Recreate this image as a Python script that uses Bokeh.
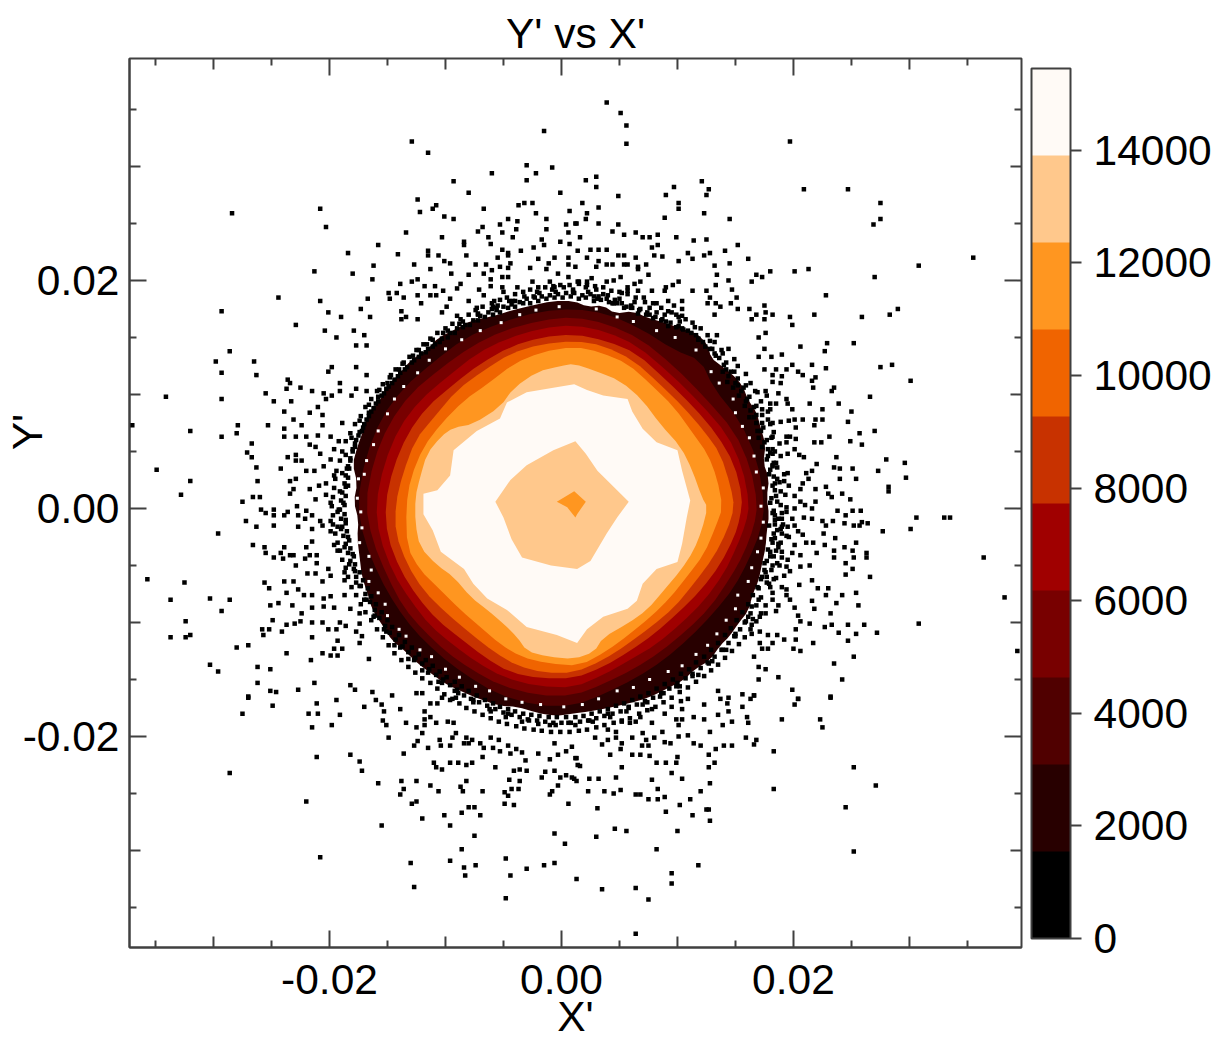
from bokeh.plotting import figure
from bokeh.models import FixedTicker, Range1d, NumeralTickFormatter, ColorBar, LinearColorMapper
from bokeh.embed import file_html
from bokeh.resources import INLINE

FONT = "Liberation Sans"
INK = "#404040"
MILLI = 1e-3
TEXT_SIZE = "42.5px"

LEVELS = [0, 1545, 3090, 4635, 6180, 7725, 9270, 10815, 12360, 13905, 15450]
BAND_COLORS = ["#000000", "#280000", "#500000", "#780000", "#a00000",
               "#c83200", "#f06400", "#ff9620", "#ffc88c", "#fffaf6"]
CBAR_TICKS = [0, 2000, 4000, 6000, 8000, 10000, 12000, 14000]

MAJOR_TICKS = [-0.02, 0.0, 0.02]
MID_TICKS = [-0.03, -0.01, 0.01, 0.03]
MINOR_TICKS = [-0.035, -0.025, -0.015, -0.005, 0.005, 0.015, 0.025, 0.035]
TICK_LABELS = {-0.02: "-0.02", 0.0: "0.00", 0.02: "0.02"}

# contour outlines, (X', Y') in units of 0.001
CONTOUR_1545 = [(1.1,18.2),(2.2,17.7),(3.6,17.8),(4.6,17.1),(6.2,17.3),(7.5,16.7),(8.9,16.3),(10.3,15.8),(11.6,15.4),(12.6,14.4),(12.9,13.2),(13.8,12.5),(14.7,11.8),(15.6,10.8),(16.1,9.5),(16.8,8.5),(17.2,7.0),(17.6,5.6),(17.4,4.0),(17.9,2.6),(17.7,1.0),(17.9,-0.6),(17.7,-2.0),(17.6,-3.4),(17.3,-4.8),(17.0,-6.3),(16.5,-7.5),(16.1,-9.0),(15.3,-10.0),(14.5,-11.2),(13.7,-12.0),(12.8,-13.3),(11.5,-14.1),(10.5,-15.1),(9.1,-15.8),(7.5,-16.6),(5.8,-17.1),(4.1,-17.5),(2.4,-17.8),(1.0,-18.0),(-0.6,-18.2),(-2.2,-17.9),(-3.8,-17.4),(-5.4,-17.3),(-7.1,-16.7),(-8.5,-16.1),(-10.0,-15.4),(-11.2,-14.5),(-12.4,-13.6),(-13.6,-12.4),(-14.6,-11.6),(-15.4,-10.3),(-16.3,-8.9),(-16.7,-7.5),(-17.2,-6.0),(-17.4,-4.3),(-17.6,-2.6),(-17.5,-1.0),(-17.9,0.6),(-17.6,2.2),(-18.0,3.9),(-17.6,5.4),(-17.1,6.8),(-16.7,8.3),(-15.7,9.4),(-15.1,10.6),(-13.9,11.9),(-13.0,13.0),(-11.5,14.0),(-10.6,15.0),(-9.0,15.8),(-7.7,16.5),(-5.8,16.9),(-4.2,17.4),(-2.6,17.8),(-0.8,18.2)]
CONTOUR_3090 = [(1.1,17.5),(3.9,17.1),(6.8,15.8),(9.7,13.9),(12.0,13.0),(13.1,10.6),(15.4,7.7),(16.9,4.2),(17.5,0.4),(17.2,-1.9),(16.1,-4.6),(14.9,-6.9),(13.1,-9.2),(11.1,-11.3),(8.8,-13.3),(6.4,-14.9),(3.6,-16.3),(1.1,-17.3),(-2.1,-17.3),(-5.5,-16.3),(-8.4,-14.5),(-10.7,-12.7),(-12.7,-10.7),(-14.3,-8.5),(-15.7,-6.0),(-17.0,-2.8),(-17.6,0.4),(-16.9,4.5),(-15.5,8.0),(-13.6,10.6),(-11.1,12.8),(-8.4,14.9),(-5.3,16.3),(-1.8,17.3)]
CONTOUR_4635 = [(1.1,16.8),(3.9,16.2),(6.8,14.9),(9.7,12.5),(12.3,9.8),(14.9,6.8),(16.3,3.6),(16.9,0.4),(16.6,-1.6),(15.7,-4.0),(14.6,-6.0),(12.8,-8.7),(10.8,-10.7),(8.5,-12.6),(6.2,-14.1),(3.6,-15.4),(1.1,-16.4),(-2.1,-16.4),(-5.3,-15.5),(-7.8,-14.1),(-9.9,-12.6),(-11.9,-10.7),(-13.6,-8.7),(-15.0,-6.0),(-16.3,-2.8),(-16.9,0.4),(-16.2,4.2),(-14.9,7.4),(-13.0,10.1),(-10.4,12.3),(-7.8,14.2),(-5.0,15.6),(-1.8,16.5)]
CONTOUR_6180 = [(1.1,16.1),(3.9,15.5),(6.5,14.3),(9.4,11.8),(12.0,9.2),(14.3,6.5),(15.6,3.6),(16.2,0.4),(15.9,-1.3),(15.1,-3.4),(14.0,-5.7),(12.3,-8.1),(10.3,-10.1),(8.2,-11.9),(5.9,-13.3),(3.6,-14.6),(1.1,-15.7),(-2.1,-15.6),(-5.0,-14.8),(-7.3,-13.5),(-9.3,-12.0),(-11.3,-10.3),(-13.0,-8.1),(-14.5,-5.7),(-15.7,-2.5),(-16.0,0.4),(-15.3,3.9),(-14.0,7.1),(-12.2,9.5),(-9.9,11.5),(-7.3,13.6),(-4.7,14.9),(-1.8,15.8)]
CONTOUR_7725 = [(1.1,15.3),(3.9,14.7),(6.5,13.6),(9.1,11.2),(11.4,8.9),(13.4,6.5),(14.9,3.9),(15.6,1.0),(15.4,-0.8),(14.9,-2.5),(13.7,-4.9),(12.0,-7.2),(10.0,-9.2),(8.0,-11.0),(5.9,-12.5),(3.6,-13.9),(1.1,-14.9),(-1.8,-14.9),(-4.4,-14.4),(-6.7,-13.0),(-8.7,-11.4),(-10.7,-9.8),(-12.4,-7.8),(-13.9,-5.4),(-15.0,-2.5),(-15.2,0.4),(-14.5,3.6),(-13.3,6.5),(-11.6,8.9),(-9.3,10.9),(-7.0,12.7),(-4.4,14.2),(-1.8,15.0)]
CONTOUR_9270 = [(1.1,14.7),(3.6,14.3),(6.2,13.0),(8.5,10.9),(10.5,8.9),(12.3,6.8),(13.7,4.8),(14.6,1.9),(14.9,0.1),(14.3,-1.9),(13.1,-4.3),(11.4,-6.6),(9.7,-8.7),(7.7,-10.4),(5.7,-11.9),(3.6,-13.3),(1.1,-14.4),(-1.5,-14.4),(-3.8,-13.8),(-5.8,-12.6),(-7.8,-11.0),(-9.9,-9.2),(-11.9,-7.2),(-13.3,-4.9),(-14.3,-2.2),(-14.3,0.4),(-13.7,3.0),(-12.6,6.0),(-11.0,8.0),(-9.0,10.4),(-6.7,12.1),(-4.4,13.6),(-1.8,14.4)]
CONTOUR_10815 = [(1.1,14.2),(3.4,13.7),(5.7,12.7),(7.7,10.9),(9.7,8.9),(11.4,6.5),(12.6,4.8),(13.4,2.7),(13.9,0.1),(13.3,-1.6),(12.3,-4.0),(10.8,-6.0),(9.4,-7.8),(7.7,-9.5),(5.9,-11.0),(3.9,-12.5),(1.6,-13.8),(-1.2,-13.6),(-3.5,-13.0),(-5.3,-11.9),(-7.0,-10.4),(-8.7,-8.9),(-10.7,-6.9),(-12.2,-5.4),(-13.3,-3.4),(-13.4,0.1),(-13.0,2.7),(-11.9,5.4),(-10.4,7.4),(-8.4,9.5),(-6.4,10.9),(-4.1,12.7),(-1.8,13.7)]
CONTOUR_12360 = [(1.1,12.7),(2.8,12.1),(5.1,11.2),(7.0,9.5),(8.5,7.4),(10.3,5.4),(11.3,3.3),(12.1,1.0),(12.6,0.1),(12.1,-1.9),(11.4,-3.7),(10.3,-5.4),(8.8,-7.2),(7.4,-8.9),(5.7,-10.1),(3.6,-11.3),(2.8,-12.6),(1.1,-13.2),(-1.2,-13.0),(-3.0,-12.5),(-3.8,-11.3),(-5.0,-10.1),(-6.4,-8.9),(-7.8,-7.8),(-9.3,-6.0),(-10.7,-5.0),(-12.2,-3.4),(-12.6,-1.3),(-12.6,1.0),(-12.2,2.7),(-11.6,4.8),(-10.4,6.3),(-9.3,7.1),(-7.6,7.4),(-5.3,8.9),(-4.1,10.6),(-2.1,12.0),(-0.1,12.5)]
CONTOUR_13905 = [(1.1,10.9),(2.2,10.4),(3.6,9.9),(5.7,9.6),(6.1,8.5),(7.0,7.0),(8.2,5.8),(10.0,5.1),(10.4,3.3),(11.1,0.7),(10.8,-0.8),(10.4,-3.1),(10.0,-4.7),(8.2,-5.3),(7.0,-6.6),(6.5,-8.1),(5.7,-8.8),(3.6,-9.5),(2.2,-10.6),(1.35,-11.8),(-0.4,-11.1),(-3.0,-10.4),(-4.7,-8.9),(-6.4,-7.9),(-7.6,-6.6),(-8.4,-5.3),(-10.4,-3.8),(-11.1,-1.9),(-11.9,-0.5),(-11.9,1.3),(-10.7,1.6),(-9.6,2.9),(-9.3,5.1),(-7.3,6.8),(-5.3,7.9),(-4.7,9.3),(-3.0,10.2),(-0.7,10.6)]
HOLE_13905 = [(1.2,5.9),(2.1,4.8),(3.1,3.3),(5.8,0.6),(4.8,-0.8),(3.9,-2.2),(2.5,-4.6),(1.35,-5.3),(-0.9,-5.0),(-3.4,-4.3),(-4.3,-2.7),(-5.0,-0.8),(-5.7,0.6),(-4.4,2.5),(-3.0,3.8),(-0.7,5.1)]
HOLE_12360 = [(1.1,1.5),(2.1,0.6),(1.35,-0.5),(1.2,-0.8),(0.5,0.1),(-0.4,0.6)]

SMOOTH_CONTOURS = [CONTOUR_1545, CONTOUR_3090, CONTOUR_4635, CONTOUR_6180, CONTOUR_7725, CONTOUR_9270, CONTOUR_10815, CONTOUR_12360]
SHARP_CONTOURS = [CONTOUR_13905, HOLE_13905, HOLE_12360]
CONTOUR_COLORS = BAND_COLORS[1:] + ["#ffc88c", "#ff9620"]

# empty cells inside the thin outer rim, units of 0.001
RIM_GAPS = [(-17.0,3.0),(-17.5,2.6),(-17.6,0.9),(-17.3,-0.3),(-17.2,-1.7),(-17.4,-3.0),(-16.6,-4.2),(-16.4,-5.4),(-16.6,-6.4),(-15.8,-7.4),(-15.2,-8.4),(-15.0,-9.4),(-14.0,-10.6),(-13.4,-11.2),(-12.2,-12.4),(-11.2,-13.0),(-10.0,-14.1),(-8.8,-14.8),(-7.4,-15.6),(-6.2,-16.0),(-4.8,-16.7),(-3.4,-17.0),(-1.8,-17.2),(0.2,-17.4),(1.8,-17.2),(3.2,-16.7),(4.8,-16.0),(6.2,-15.7),(7.6,-15.0),(9.2,-14.3),(10.4,-13.8),(11.6,-12.8),(12.6,-12.0),(13.4,-11.0),(14.2,-9.8),(15.0,-8.8),(15.2,-7.6),(16.1,-6.4),(16.4,-5.2),(16.9,-3.8),(17.2,-2.6),(17.4,-1.2),(17.2,0.2),(17.4,1.8),(16.8,3.2),(16.6,4.6),(16.2,6.2),(15.6,7.2),(15.0,8.4),(14.8,9.6),(13.6,11.0),(12.9,12.0),(11.6,13.9),(9.8,15.0),(8.2,15.6),(6.2,16.4),(4.8,16.8),(3.0,17.5),(-0.2,17.7),(-2.2,17.4),(-3.6,17.0),(-5.2,16.3),(-7.0,15.6),(-8.6,14.8),(-10.0,14.0),(-11.4,13.0),(-12.4,11.9),(-13.6,10.7),(-14.4,9.6),(-15.0,8.3),(-15.8,6.8),(-16.2,5.6),(-16.8,4.2)]

# isolated particles, units of 0.001
DOTS_EDGE = [(18.3,-0.2),(18.0,0.5),(18.5,1.1),(18.2,2.0),(18.6,2.6),(17.9,3.0),(18.2,3.7),(17.7,4.3),(18.0,4.9),(17.3,5.4),(17.7,6.0),(16.9,6.8),(17.3,7.5),(16.6,8.0),(16.3,8.6),(16.8,9.0),(15.9,9.4),(15.5,10.3),(15.9,10.8),(15.0,11.0),(14.4,11.6),(14.9,12.0),(14.0,12.6),(13.6,13.2),(13.9,13.6),(13.0,14.0),(12.4,14.2),(12.8,14.7),(11.8,14.9),(11.2,15.4),(11.5,15.9),(10.5,15.7),(9.9,15.9),(10.2,16.4),(9.2,16.0),(8.6,16.5),(8.9,17.0),(7.9,16.7),(7.3,17.0),(7.6,17.6),(6.6,17.1),(6.1,17.6),(6.3,18.1),(5.4,17.6),(4.8,18.0),(5.0,18.4),(4.1,18.1),(3.4,18.3),(3.6,18.8),(2.8,18.2),(2.1,18.5),(2.3,19.0),(1.5,18.4),(0.8,18.6),(1.0,19.2),(0.1,18.5),(-0.6,18.5),(-0.5,19.0),(-1.3,18.4),(-2.0,18.2),(-1.9,18.9),(-2.7,18.0),(-3.3,18.0),(-3.2,18.6),(-4.0,17.7),(-4.6,17.6),(-4.5,18.2),(-5.3,17.2),(-5.9,17.0),(-5.9,17.7),(-6.6,16.8),(-7.2,16.5),(-7.2,17.1),(-7.9,16.1),(-8.5,15.9),(-8.5,16.4),(-9.2,15.4),(-9.8,15.0),(-9.8,15.6),(-10.5,14.6),(-11.1,14.2),(-11.1,14.8),(-11.7,13.7),(-12.3,13.3),(-12.3,13.9),(-12.9,12.8),(-13.5,12.2),(-13.6,12.8),(-14.1,11.6),(-14.6,11.0),(-14.7,11.7),(-15.1,10.5),(-15.5,9.9),(-15.7,10.4),(-16.0,9.2),(-16.4,8.5),(-16.6,9.1),(-16.8,7.8),(-17.1,7.1),(-17.4,7.7),(-17.5,6.4),(-17.8,5.7),(-18.1,6.2),(-18.0,5.0),(-18.2,4.2),(-18.6,4.7),(-18.3,3.5),(-18.4,2.7),(-18.9,3.1),(-18.6,1.9),(-18.6,1.1),(-19.1,1.5),(-18.7,0.3),(-18.7,-0.5),(-19.2,-0.1),(-18.6,-1.3),(-18.5,-2.0),(-19.0,-1.8),(-18.3,-2.8),(-18.2,-3.5),(-18.7,-3.4),(-17.9,-4.2),(-17.8,-4.9),(-18.3,-4.9),(-17.4,-5.6),(-17.1,-6.3),(-17.7,-6.5),(-16.7,-7.0),(-16.4,-7.7),(-17.0,-8.0),(-16.0,-8.4),(-15.5,-9.1),(-16.1,-9.4),(-15.0,-9.8),(-14.6,-10.4),(-15.1,-10.8),(-14.0,-11.1),(-13.5,-11.7),(-13.9,-12.2),(-12.9,-12.2),(-12.3,-12.8),(-12.7,-13.3),(-11.7,-13.3),(-11.1,-13.8),(-11.5,-14.4),(-10.5,-14.3),(-9.9,-14.8),(-10.3,-15.3),(-9.2,-15.2),(-8.6,-15.6),(-8.9,-16.2),(-8.0,-16.0),(-7.3,-16.4),(-7.6,-17.0),(-6.6,-16.8),(-5.9,-17.1),(-6.1,-17.8),(-5.3,-17.4),(-4.6,-17.6),(-4.8,-18.3),(-4.0,-17.8),(-3.3,-18.0),(-3.4,-18.7),(-2.6,-18.1),(-1.9,-18.2),(-2.0,-18.9),(-1.1,-18.3),(-0.4,-18.3),(-0.5,-19.0),(0.4,-18.3),(1.2,-18.3),(1.2,-19.0),(1.9,-18.2),(2.6,-18.0),(2.7,-18.7),(3.3,-17.8),(4.0,-17.6),(4.2,-18.3),(4.7,-17.3),(5.4,-17.1),(5.6,-17.8),(6.1,-16.8),(6.8,-16.5),(7.0,-17.2),(7.5,-16.2),(8.2,-15.8),(8.5,-16.5),(8.9,-15.4),(9.6,-15.0),(9.9,-15.6),(10.3,-14.5),(11.0,-14.1),(11.3,-14.7),(11.6,-13.5),(12.3,-13.0),(12.7,-13.6),(12.9,-12.4),(13.5,-11.8),(13.9,-12.4),(14.1,-11.1),(14.6,-10.5),(15.0,-11.0),(15.1,-9.8),(15.6,-9.1),(16.1,-9.5),(16.1,-8.4),(16.5,-7.6),(17.0,-8.0),(16.9,-6.9),(17.2,-6.2),(17.7,-6.5),(17.5,-5.4),(17.7,-4.6),(18.2,-5.0),(18.0,-3.8),(18.2,-3.0),(18.7,-3.4),(18.3,-2.2),(18.4,-1.4),(18.9,-1.8),(18.4,-0.6)]
DOTS_FRINGE_E = [(18.1,0.9),(18.4,1.6),(18.9,0.3),(19.3,1.2),(18.2,-0.4),(18.7,-0.9),(19.4,-0.3),(18.3,2.8),(18.8,2.3),(19.2,3.0),(18.0,3.4),(18.5,4.0),(19.6,2.0),(17.9,-1.5),(18.6,-1.9),(19.1,-1.4),(18.1,-2.7),(18.7,-3.1),(19.4,-2.4),(17.8,-3.6),(18.3,-4.2),(19.0,-3.8),(19.5,-4.5),(17.5,-4.8),(18.1,-5.4),(18.8,-5.0),(19.2,-5.9),(17.3,-6.0),(17.9,-6.6),(18.5,-6.1)]
DOTS_FRINGE_NE = [(17.8,4.6),(18.4,5.0),(17.5,5.8),(18.1,6.2),(18.8,5.7),(17.0,6.2),(17.4,7.1),(18.0,7.4),(16.8,7.5),(17.3,8.2),(18.0,8.7),(16.2,8.0),(16.6,8.9),(17.2,9.4),(15.8,9.0),(16.2,9.8),(16.9,10.2),(15.3,9.9),(15.7,10.6),(16.3,11.0),(14.8,10.6),(15.2,11.4),(15.9,11.8),(14.3,11.1),(14.6,12.0),(15.2,12.5),(13.9,12.0),(14.2,12.8),(14.9,13.1),(13.3,13.4),(13.8,13.9),(14.4,14.0),(12.8,14.0),(13.2,14.6),(12.2,14.6),(12.6,15.2),(13.4,15.2),(11.6,15.2),(12.0,15.8),(10.9,15.6),(11.3,16.3),(10.1,16.0),(10.7,16.6),(9.4,16.3),(9.9,17.0),(8.7,16.6),(9.2,17.3),(8.1,16.8),(8.6,17.6),(7.4,17.2),(7.9,18.0),(6.7,17.4),(7.2,18.1)]
DOTS_FRINGE_N = [(6.0,17.8),(6.4,18.5),(5.2,18.0),(5.7,18.8),(4.6,18.3),(5.0,19.0),(3.9,18.4),(4.3,19.1),(3.2,18.6),(3.6,19.4),(2.5,18.8),(2.9,19.5),(1.8,18.7),(2.1,19.4),(1.1,18.9),(1.5,19.7),(0.4,18.9),(0.7,19.6),(-0.3,18.8),(-0.1,19.6),(-1.0,18.7),(-0.7,19.5),(-1.7,18.6),(-1.4,19.4),(-2.3,18.5),(-2.0,19.4),(-3.0,18.4),(-2.7,19.2),(-3.6,18.1),(-3.3,19.0),(-4.3,17.9),(-4.0,18.8),(-5.0,17.7),(-4.7,18.5),(-5.6,17.4),(-5.3,18.3)]
DOTS_FRINGE_NW = [(-6.3,17.2),(-6.0,18.0),(-7.0,16.9),(-6.8,17.7),(-7.6,16.5),(-7.4,17.4),(-8.3,16.1),(-8.0,17.0),(-9.0,15.8),(-8.7,16.6),(-9.6,15.4),(-9.4,16.2),(-10.3,14.9),(-10.0,15.8),(-10.9,14.4),(-10.7,15.4),(-11.5,14.0),(-11.3,14.9),(-12.1,13.6),(-11.9,14.4),(-12.7,13.0),(-12.5,13.9),(-13.3,12.4),(-13.1,13.3),(-13.9,11.9),(-13.7,12.7),(-14.4,11.3),(-14.3,12.2),(-14.9,10.7),(-14.8,11.5),(-15.3,10.1),(-15.4,10.9),(-15.8,9.4),(-15.9,10.3),(-16.2,8.8),(-16.4,9.6),(-16.6,8.1),(-16.9,8.9),(-17.0,7.4),(-17.3,8.1),(-17.4,6.7),(-17.8,7.4),(-17.7,6.0),(-18.2,6.6)]
DOTS_FRINGE_W = [(-18.0,5.2),(-18.6,5.9),(-18.2,4.4),(-18.9,5.0),(-18.4,3.7),(-19.1,4.2),(-18.6,2.9),(-19.4,3.3),(-18.7,2.2),(-19.5,2.6),(-18.9,1.4),(-19.6,1.8),(-19.0,0.7),(-19.7,1.0),(-19.1,-0.1),(-19.8,0.2),(-19.0,-0.9),(-19.7,-0.6),(-18.9,-1.6),(-19.7,-1.4),(-18.8,-2.4),(-19.5,-2.2),(-18.6,-3.1),(-19.3,-3.0),(-18.4,-3.9),(-19.1,-3.7),(-18.2,-4.6),(-18.9,-4.5),(-17.9,-5.3),(-18.6,-5.2)]
DOTS_FRINGE_SW = [(-17.7,-6.0),(-18.4,-6.0),(-17.3,-6.8),(-18.1,-6.9),(-16.9,-7.5),(-17.7,-7.6),(-16.5,-8.2),(-17.3,-8.4),(-16.1,-8.9),(-16.9,-9.1),(-15.7,-9.6),(-16.4,-9.8),(-15.2,-10.3),(-15.9,-10.6),(-14.8,-10.9),(-15.4,-11.3),(-14.3,-11.5),(-14.9,-12.0),(-13.7,-12.1),(-14.4,-12.7),(-13.2,-12.6),(-13.8,-13.3),(-12.6,-13.1),(-13.2,-13.9),(-12.0,-13.6),(-12.6,-14.4),(-11.4,-14.1),(-12.0,-14.9),(-10.8,-14.6),(-11.3,-15.3),(-10.2,-15.0),(-10.7,-15.8),(-9.6,-15.5),(-10.1,-16.3),(-9.0,-15.9),(-9.4,-16.7),(-8.4,-16.4),(-8.8,-17.1),(-7.8,-16.7),(-8.2,-17.5),(-7.1,-17.0),(-7.5,-17.8)]
DOTS_FRINGE_S = [(-6.4,-17.3),(-6.8,-18.1),(-5.7,-17.6),(-6.1,-18.4),(-5.0,-17.9),(-5.4,-18.7),(-4.3,-18.1),(-4.7,-18.9),(-3.6,-18.3),(-3.9,-19.1),(-2.9,-18.5),(-3.2,-19.3),(-2.1,-18.6),(-2.4,-19.4),(-1.4,-18.7),(-1.7,-19.5),(-0.7,-18.8),(-0.9,-19.6),(0.0,-18.8),(-0.1,-19.6),(0.8,-18.8),(0.7,-19.6),(1.6,-18.7),(1.5,-19.5),(2.3,-18.6),(2.2,-19.4),(3.0,-18.4),(3.0,-19.2),(3.7,-18.2),(3.7,-19.0),(4.4,-18.0),(4.5,-18.8),(5.1,-17.8),(5.2,-18.6),(5.8,-17.5),(5.9,-18.4)]
DOTS_FRINGE_SE = [(6.5,-17.2),(6.7,-18.0),(7.2,-16.9),(7.4,-17.7),(7.9,-16.6),(8.1,-17.4),(8.6,-16.2),(8.8,-17.0),(9.3,-15.8),(9.5,-16.6),(10.0,-15.3),(10.2,-16.1),(10.7,-14.9),(10.9,-15.7),(11.3,-14.5),(11.6,-15.2),(12.0,-14.0),(12.3,-14.7),(12.6,-13.5),(12.9,-14.2),(13.2,-13.0),(13.5,-13.7),(13.8,-12.4),(14.1,-13.1),(14.4,-11.8),(14.7,-12.5),(14.9,-11.2),(15.3,-11.9),(15.4,-10.6),(15.8,-11.3),(15.9,-9.9),(16.3,-10.6),(16.3,-9.2),(16.8,-9.9),(16.8,-8.5),(17.2,-9.2),(17.2,-7.8),(17.6,-8.5)]
DOTS_RIM = [(-18.5,3.5),(-18.4,2.0),(-18.8,0.5),(-18.6,-1.0),(-18.4,-2.5),(-18.0,-4.0),(-17.8,-5.5),(-17.4,-6.8),(-16.8,-8.0),(-16.2,-9.5),(-15.3,-10.6),(-14.4,-12.0),(-13.2,-13.2),(-12.0,-14.2),(-10.6,-15.2),(-9.2,-16.0),(-7.6,-16.8),(-6.2,-17.6),(-4.6,-18.0),(-2.8,-18.6),(-1.0,-19.0),(0.6,-18.8),(2.4,-18.6),(4.0,-18.0),(5.8,-17.4),(7.4,-17.0),(8.8,-16.2),(10.2,-15.6),(11.8,-14.6),(13.0,-13.4),(14.2,-12.4),(15.0,-11.2),(15.8,-10.0),(16.4,-8.6),(17.0,-7.0),(17.6,-5.6),(18.0,-4.2),(18.4,-2.6),(18.4,-1.0),(18.6,0.6),(18.4,2.2),(18.2,3.8),(17.8,5.2),(17.2,6.8),(16.8,8.2),(16.0,9.6),(15.2,10.8),(14.2,12.2),(13.2,13.6),(11.8,14.8),(10.4,15.8),(9.0,16.4),(7.6,17.0),(6.0,17.6),(4.4,18.0),(2.8,18.6),(1.0,19.0),(-0.8,19.2),(-2.4,18.6),(-4.0,18.2),(-5.6,17.6),(-7.2,17.0),(-8.8,16.2),(-10.2,15.4),(-11.6,14.4),(-12.8,13.4),(-14.0,12.2),(-15.0,11.0),(-15.8,9.8),(-16.6,8.4),(-17.2,6.8),(-17.8,5.4)]
DOTS_TOP_LEFT = [(-1.5,33.1),(-12.9,32.2),(-11.5,31.2),(-3.0,30.1),(-2.2,29.4),(-0.8,29.9),(-6.0,29.4),(-9.3,28.7),(-3.0,28.8),(-8.0,27.7),(-0.1,27.7),(-12.4,27.1),(-3.7,26.6),(-3.2,26.8),(-2.5,26.8),(-10.8,26.6),(-11.1,26.3),(-6.7,26.3),(-2.2,25.9),(0.7,26.1),(-20.8,26.3),(-28.4,25.9),(-12.2,26.0),(-10.1,25.6),(-9.3,25.4),(-1.3,25.4),(-4.6,25.4),(-3.8,25.2),(-20.3,24.7),(-6.8,24.7),(-7.2,24.3),(-5.3,24.9),(-3.9,24.5),(-1.3,24.5),(0.4,24.9),(1.2,25.0),(-13.4,24.2),(-5.1,24.2),(0.6,24.2),(-10.3,23.8),(-6.3,23.8),(-4.2,23.8),(-1.7,23.6),(-0.1,23.4),(0.7,23.2),(-8.4,23.4),(-8.4,23.1),(-6.1,23.2),(-1.5,23.1),(-15.8,23.1),(-2.4,22.9),(-5.1,22.7),(-3.5,22.6),(-18.4,22.4),(-11.5,22.6),(-11.5,22.2),(-10.6,22.2),(-8.2,22.2),(-14.1,22.3),(-4.6,22.4),(-4.6,22.2),(-5.5,22.0),(-0.6,22.0),(-2.0,21.9),(-10.1,21.7),(-9.6,21.5),(-4.4,21.5),(-1.1,21.5),(0.6,22.0),(0.6,21.4),(-12.7,21.4),(-7.4,21.4),(-6.5,21.4),(-5.3,21.2),(-16.2,21.3),(-11.3,21.0),(-4.6,21.1),(-2.7,21.1),(-1.3,21.0),(-6.0,20.9),(-21.3,20.8),(-18.0,20.6),(-9.5,20.6),(-8.0,20.5),(-6.7,20.6),(-0.3,20.6),(-5.1,20.3),(-4.6,20.3),(0.6,20.3),(-16.3,20.1),(-12.9,19.9),(-12.4,20.1),(-6.1,20.1),(1.5,19.9),(-13.9,19.7),(-11.8,19.5),(-10.9,19.5),(-8.7,19.7),(-9.0,19.3),(-6.1,19.5),(-5.1,19.4),(-3.8,19.4),(-7.1,19.2),(-2.5,19.9),(0.2,19.4),(-1.0,19.9),(-0.6,19.4),(-14.9,18.9),(-14.2,18.9),(-10.2,19.1),(-5.0,19.0),(-2.1,19.0),(-24.4,18.5),(-12.4,18.7),(-11.3,18.7),(-10.8,18.7),(-6.7,18.7),(-14.8,18.4),(-13.6,18.5),(-16.7,18.4),(-20.8,18.2),(-9.6,18.4),(-8.0,18.2),(-5.8,18.2),(-4.2,18.2),(-12.1,18.0),(-5.5,17.8),(-9.9,17.7),(-7.3,17.6),(-29.3,17.3),(-17.3,17.5),(-13.8,17.3),(-10.3,17.2),(-20.1,17.2),(-6.0,17.5),(-19.0,16.8),(-16.5,16.8),(-13.4,16.8),(-12.4,16.6),(-13.8,16.6),(-9.0,16.9)]
DOTS_TOP_RIGHT = [(3.9,35.6),(5.1,34.7),(5.6,33.6),(5.6,32.0),(19.7,32.2),(3.0,29.1),(2.1,28.8),(3.0,28.2),(12.1,28.7),(12.7,28.0),(9.7,28.2),(9.0,27.5),(12.5,27.5),(4.9,27.4),(20.9,28.0),(24.7,28.0),(1.8,26.8),(3.2,26.4),(10.1,26.8),(10.1,26.3),(27.5,26.8),(12.3,25.9),(2.2,25.9),(2.1,25.4),(8.9,25.5),(14.5,25.4),(27.5,25.4),(1.3,25.0),(3.2,25.0),(4.9,24.9),(26.9,24.9),(4.4,24.3),(5.4,24.0),(6.4,24.2),(7.0,23.8),(7.6,23.8),(8.3,24.0),(9.9,23.8),(1.6,23.8),(11.4,23.5),(12.5,23.6),(7.8,22.9),(8.3,23.1),(15.2,23.1),(2.5,22.7),(3.2,22.7),(3.9,22.7),(1.4,22.6),(4.9,22.2),(5.4,22.2),(8.0,22.2),(8.7,22.1),(6.4,22.0),(10.9,22.4),(12.3,22.2),(12.8,22.4),(14.1,22.6),(11.3,21.9),(16.1,21.9),(2.2,22.0),(3.2,21.7),(10.1,21.7),(14.5,21.5),(35.5,22.0),(30.8,21.3),(3.9,21.4),(4.4,21.4),(5.4,21.4),(5.7,21.4),(7.3,21.4),(1.2,21.2),(3.0,21.2),(6.6,21.2),(13.2,21.3),(6.6,21.0),(18.0,20.8),(20.1,20.8),(21.3,21.0),(7.5,20.5),(13.4,20.5),(16.8,20.5),(5.1,20.3),(17.3,20.3),(27.0,20.3),(2.6,20.2),(1.4,19.9),(2.2,19.9),(3.9,19.9),(4.5,20.0),(6.8,19.9),(10.1,19.9),(14.4,20.0),(16.4,19.9),(6.3,19.7),(13.3,19.6),(2.2,19.6),(9.0,19.4),(9.6,19.6),(5.7,19.4),(3.0,19.2),(14.7,19.2),(11.3,19.1),(12.5,19.1),(5.7,19.1),(6.6,19.1),(7.8,19.1),(8.9,19.1),(5.2,18.9),(22.8,18.7),(7.1,18.5),(15.1,18.5),(12.8,18.5),(4.0,18.7),(3.1,18.4),(10.4,18.2),(9.2,18.2),(12.6,18.0),(13.3,18.0),(8.2,18.0),(14.6,18.0),(17.5,17.8),(9.7,17.8),(4.5,18.0),(13.7,17.7),(15.2,17.5),(29.0,17.5),(10.4,17.5),(5.6,17.7),(6.8,17.5),(16.2,17.5),(8.2,17.2),(9.5,17.2),(13.2,17.0),(16.8,17.0),(17.6,17.2),(18.2,17.0),(19.7,16.8),(21.8,17.0),(25.9,16.8),(28.3,17.0),(16.4,16.6),(17.5,16.6),(10.4,16.9),(10.1,16.8)]
DOTS_LEFT = [(-22.9,16.1),(-20.4,15.6),(-19.4,15.0),(-17.9,15.6),(-17.0,15.2),(-28.6,13.8),(-17.7,14.3),(-16.8,14.3),(-29.8,12.9),(-26.5,12.9),(-19.8,12.4),(-20.1,12.0),(-17.7,12.4),(-29.3,11.9),(-26.3,11.7),(-16.8,11.7),(-23.6,11.3),(-23.4,11.0),(-19.1,11.0),(-22.5,10.6),(-23.7,10.5),(-17.7,10.5),(-21.5,10.3),(-25.5,10.1),(-20.5,10.1),(-19.1,10.3),(-19.8,9.9),(-18.1,9.9),(-16.8,10.3),(-34.1,9.8),(-29.3,9.6),(-24.8,9.4),(-23.3,9.4),(-20.3,9.6),(-21.0,8.9),(-23.9,8.5),(-21.7,8.4),(-20.6,8.2),(-23.1,7.8),(-37.0,7.3),(-27.9,7.3),(-25.3,7.3),(-22.4,7.3),(-20.6,7.3),(-18.9,7.5),(-32.0,6.8),(-28.0,6.6),(-23.9,7.0),(-29.3,6.3),(-23.9,6.3),(-22.9,6.3),(-22.0,6.3),(-21.0,6.4),(-19.9,6.3),(-19.2,5.9),(-26.7,5.7),(-21.7,5.6),(-21.2,5.4),(-19.6,5.2),(-27.1,4.9),(-20.8,4.8),(-26.7,4.5),(-23.6,4.5),(-22.9,4.7),(-22.9,4.2),(-22.4,4.2),(-19.9,4.3),(-26.3,3.6),(-24.2,3.5),(-20.5,3.7),(-22.0,3.3),(-21.3,3.3),(-34.9,3.4),(-19.6,2.9),(-32.0,2.4),(-26.2,2.4),(-23.4,2.4),(-22.9,2.6),(-20.9,2.0),(-20.3,2.2),(-23.1,1.7),(-23.4,1.3),(-21.7,1.7),(-32.8,1.2),(-26.6,1.0),(-26.0,1.0),(-20.3,1.2),(-21.2,0.8),(-27.5,0.6),(-19.9,0.5),(-22.8,0.2),(-25.9,-0.1),(-24.8,-0.1),(-25.5,-0.4),(-24.8,-0.6),(-23.6,-0.3),(-23.9,-0.6),(-22.0,-0.2),(-22.7,-0.6),(-21.5,-0.6),(-19.3,-0.3),(-22.1,-0.9),(-27.2,-1.1),(-20.8,-1.1),(-19.9,-1.1),(-24.8,-1.5),(-26.3,-1.6),(-22.7,-1.6),(-20.6,-1.5),(-21.5,-1.8),(-19.3,-1.6),(-29.6,-2.2),(-19.9,-2.0),(-21.5,-2.9),(-26.6,-3.2),(-25.6,-3.4),(-23.9,-3.4),(-22.0,-3.4),(-19.6,-3.2),(-25.5,-3.9),(-24.2,-3.9),(-24.8,-4.3),(-24.0,-4.4),(-23.4,-4.1),(-23.1,-4.1),(-22.1,-4.4),(-21.7,-4.1),(-21.1,-4.1),(-19.3,-3.7),(-21.1,-4.8),(-22.9,-5.0),(-20.1,-5.3),(-21.9,-5.7),(-21.2,-5.7),(-19.9,-5.9),(-18.7,-5.6),(-35.7,-6.2),(-23.9,-6.4),(-23.1,-6.4),(-20.6,-6.4),(-32.5,-6.5),(-25.6,-6.5),(-25.2,-7.0),(-22.7,-7.1),(-18.7,-6.3),(-23.7,-7.4),(-22.2,-7.6),(-21.5,-7.6),(-33.7,-8.0),(-30.3,-7.9),(-28.6,-8.0),(-19.9,-7.7),(-20.5,-7.9),(-18.7,-7.6),(-25.1,-8.5),(-24.4,-8.3),(-23.2,-8.5),(-21.5,-8.7),(-20.5,-8.6),(-19.6,-8.7),(-18.2,-8.8),(-29.3,-9.0),(-22.4,-9.2),(-17.4,-9.2),(-24.9,-9.8),(-32.4,-9.9),(-23.0,-10.1),(-22.5,-9.9),(-23.7,-10.2),(-21.5,-10.0),(-20.6,-10.0),(-19.1,-10.0),(-17.4,-10.1),(-25.8,-10.6),(-25.2,-10.6),(-20.1,-10.6),(-19.4,-10.6),(-18.6,-10.3),(-17.7,-10.8),(-24.1,-10.8),(-25.7,-11.1),(-33.7,-11.3),(-32.4,-11.3),(-32.0,-11.1),(-21.5,-11.3),(-17.2,-11.2),(-19.3,-11.6),(-27.0,-12.0),(-28.0,-12.2),(-17.4,-11.8),(-19.6,-12.3),(-18.9,-12.3),(-23.7,-12.7),(-20.6,-12.7),(-19.9,-12.9),(-19.3,-12.9),(-16.6,-13.2),(-21.6,-13.3),(-30.3,-13.7),(-26.2,-13.9),(-25.1,-14.1),(-29.6,-14.3),(-26.2,-15.3),(-21.3,-15.3),(-18.2,-15.5),(-17.8,-15.9),(-25.1,-16.0),(-22.7,-15.9),(-27.0,-16.5)]
DOTS_RIGHT = [(19.9,16.1),(17.6,15.4),(17.0,15.0),(25.2,14.5),(22.9,14.5),(20.6,14.2),(17.5,14.0),(22.7,13.8),(19.0,13.5),(18.1,13.3),(17.0,13.3),(19.9,12.6),(21.6,12.6),(22.8,12.3),(27.5,12.4),(28.5,12.6),(17.5,12.2),(18.5,12.2),(19.4,12.2),(20.4,12.0),(20.8,11.7),(18.2,11.7),(19.0,11.6),(21.9,11.5),(18.2,11.1),(18.9,11.0),(21.6,11.2),(30.1,11.2),(21.7,10.6),(23.5,10.6),(23.3,10.3),(17.6,10.3),(16.7,10.3),(18.7,10.1),(17.7,9.9),(26.6,9.8),(19.4,9.6),(18.0,9.2),(18.5,9.2),(19.5,9.2),(21.4,9.2),(23.9,9.2),(19.9,8.7),(22.5,8.7),(17.8,8.5),(25.0,8.5),(17.3,8.7),(17.8,7.8),(18.9,7.6),(19.6,7.7),(20.1,7.8),(20.8,7.8),(21.9,7.8),(22.5,7.8),(24.7,7.6),(18.2,7.5),(21.8,7.3),(20.2,7.1),(27.0,6.8),(25.7,6.6),(18.3,6.7),(18.2,6.3),(19.4,6.3),(19.7,6.3),(20.2,6.1),(23.1,6.3),(24.9,5.9),(21.8,5.8),(22.4,5.8),(19.4,5.8),(25.9,5.6),(20.1,5.2),(18.2,5.2),(19.5,4.8),(18.2,4.8),(20.5,4.7),(20.9,4.5),(23.7,4.5),(28.0,4.3),(18.9,4.6),(22.0,3.9),(29.6,4.0),(18.3,4.0),(18.6,3.6),(23.5,3.6),(24.0,3.5),(25.1,3.5),(27.3,3.3),(21.6,3.3),(21.1,3.1),(19.5,3.1),(29.7,2.7),(21.3,2.6),(24.0,2.6),(25.4,2.6),(19.2,2.4),(20.8,2.2),(28.2,1.9),(28.2,1.5),(21.9,1.7),(22.8,1.9),(20.6,1.7),(18.9,1.5),(23.0,1.3),(23.3,1.0),(24.2,1.3),(20.1,1.1),(24.9,0.8),(20.6,0.6),(21.9,0.6),(21.0,0.3),(19.4,0.1),(20.1,0.0),(21.6,0.0),(23.8,-0.2),(25.1,-0.2),(25.8,-0.2),(19.0,-0.4),(20.9,-0.8),(21.6,-0.9),(24.5,-0.6),(30.6,-0.8),(33.0,-0.8),(33.5,-0.8),(19.9,-0.9),(19.0,-0.9),(22.5,-1.1),(23.4,-1.1),(24.4,-1.3),(25.9,-1.2),(26.4,-1.3),(22.8,-1.5),(25.2,-1.5),(25.7,-1.5),(19.5,-1.6),(20.1,-1.5),(19.0,-1.6),(20.4,-2.0),(30.1,-1.8),(27.7,-2.0),(22.6,-2.2),(20.8,-2.3),(19.0,-2.2),(19.6,-2.5),(23.6,-2.6),(18.9,-3.0),(21.1,-3.0),(21.7,-3.0),(22.7,-3.2),(25.4,-3.0),(24.4,-3.4),(20.1,-3.2),(23.5,-3.7),(25.1,-3.7),(22.0,-3.9),(19.9,-3.9),(18.5,-3.7),(26.3,-3.9),(20.6,-4.1),(19.0,-4.3),(23.5,-4.3),(25.2,-4.3),(26.3,-4.3),(36.4,-4.3),(18.6,-4.8),(19.4,-5.1),(20.6,-5.1),(21.4,-5.0),(24.5,-4.8),(19.7,-5.5),(25.1,-5.3),(17.7,-6.0),(24.5,-5.8),(26.6,-6.0),(18.3,-6.2),(21.6,-6.3),(20.5,-6.7),(18.0,-6.9),(19.0,-6.9),(19.4,-7.1),(22.1,-7.0),(23.0,-7.0),(18.2,-7.4),(19.4,-7.6),(22.8,-7.6),(24.2,-7.6),(25.4,-7.4),(38.2,-7.8),(18.2,-8.0),(19.7,-8.0),(21.6,-8.1),(23.7,-8.3),(18.7,-8.5),(25.6,-8.5),(20.1,-8.7),(21.8,-8.8),(18.5,-9.0),(23.2,-9.2),(20.4,-9.4),(17.6,-9.2),(17.1,-9.5),(16.5,-9.7),(16.4,-10.2),(20.6,-9.9),(21.4,-10.1),(23.3,-10.2),(24.7,-10.2),(26.1,-10.2),(30.8,-10.1),(22.7,-10.4),(20.2,-10.6),(23.9,-10.9),(25.4,-11.0),(27.2,-10.9),(17.1,-10.8),(17.8,-11.1),(18.6,-11.1),(16.4,-11.0),(20.2,-11.5),(19.2,-11.5),(24.7,-11.6),(21.7,-11.8),(18.2,-11.8),(17.1,-11.8),(17.3,-12.3),(17.8,-12.3),(20.0,-12.3),(20.6,-12.5),(39.3,-12.5),(16.6,-13.0),(25.2,-13.0),(23.5,-13.6),(17.0,-13.9),(17.6,-14.1),(18.7,-14.8),(17.0,-15.0),(24.2,-15.0),(19.9,-15.9),(16.6,-16.4),(20.4,-16.7),(23.2,-16.5)]
DOTS_BOTTOM_LEFT = [(-27.0,-16.6),(-24.6,-16.1),(-24.9,-17.3),(-27.5,-18.0),(-21.1,-17.1),(-19.4,-16.8),(-21.8,-18.0),(-21.0,-18.0),(-19.1,-18.1),(-21.5,-19.2),(-19.8,-19.0),(-21.1,-21.8),(-28.6,-23.2),(-22.0,-25.7),(-20.8,-30.6),(-18.2,-21.6),(-17.4,-22.2),(-17.2,-23.0),(-15.8,-24.1),(-14.9,-20.1),(-17.0,-17.4),(-16.3,-16.1),(-16.0,-16.8),(-15.5,-17.2),(-15.3,-17.8),(-15.4,-18.6),(-15.1,-19.0),(-14.6,-16.4),(-13.9,-17.6),(-13.4,-18.8),(-12.5,-19.2),(-11.8,-17.8),(-11.8,-18.5),(-11.8,-19.0),(-11.3,-18.3),(-10.8,-18.8),(-12.5,-16.2),(-12.0,-16.2),(-11.3,-17.1),(-10.7,-17.1),(-10.3,-16.6),(-9.6,-16.8),(-9.1,-16.6),(-9.8,-18.7),(-9.3,-18.8),(-12.0,-19.7),(-12.4,-20.4),(-12.7,-20.8),(-11.5,-21.0),(-10.5,-20.3),(-10.4,-20.8),(-9.6,-20.8),(-9.4,-20.1),(-9.1,-19.7),(-13.6,-21.5),(-8.4,-20.6),(-8.0,-20.6),(-8.2,-20.1),(-7.7,-20.3),(-7.0,-20.6),(-6.7,-21.0),(-6.1,-20.1),(-5.4,-20.3),(-5.9,-21.0),(-5.3,-21.3),(-4.6,-20.8),(-3.9,-21.1),(-4.4,-21.5),(-3.4,-21.4),(-2.0,-21.5),(-0.6,-20.6),(-6.8,-21.8),(-1.0,-22.0),(-0.3,-21.6),(0.4,-21.3),(1.3,-21.9),(-11.0,-22.3),(-10.8,-22.7),(-10.3,-22.9),(-9.6,-22.3),(-8.9,-22.3),(-8.2,-22.5),(-7.7,-22.3),(-5.7,-22.7),(-3.1,-22.1),(-4.1,-23.0),(-3.6,-22.9),(-3.0,-23.0),(-0.6,-23.0),(-1.4,-23.1),(-1.7,-23.6),(1.4,-22.5),(-0.1,-23.6),(0.4,-23.4),(0.9,-23.6),(1.3,-23.9),(-4.5,-23.8),(-3.6,-23.9),(-8.2,-23.9),(-13.8,-23.9),(-12.5,-23.9),(-11.3,-24.3),(-8.7,-24.4),(-0.3,-24.3),(-13.6,-24.6),(-10.6,-24.8),(-8.5,-24.8),(-6.8,-24.8),(-4.3,-24.6),(-3.7,-24.6),(-4.9,-24.9),(-0.8,-24.8),(-13.9,-25.1),(-4.6,-25.2),(-1.0,-25.1),(-12.9,-25.9),(-12.5,-25.7),(-4.9,-25.9),(-4.1,-26.0),(0.6,-25.9),(-8.0,-26.2),(-7.5,-26.2),(-8.6,-26.7),(-10.1,-26.9),(-7.0,-26.9),(-12.0,-27.2),(-15.5,-27.8),(-9.6,-27.8),(-7.5,-28.7),(-0.6,-28.5),(0.3,-29.4),(-8.6,-29.9),(-4.8,-30.7),(-13.0,-31.1),(-9.6,-30.9),(-7.4,-31.3),(-0.6,-31.1),(-8.4,-31.5),(-1.5,-31.3),(-3.0,-31.6),(-8.3,-32.2),(-4.4,-32.2),(1.3,-32.5),(-12.7,-33.2),(-4.8,-34.2)]
DOTS_BOTTOM_RIGHT = [(6.4,-37.3),(7.5,-34.3),(6.4,-33.3),(3.5,-33.4),(9.5,-32.9),(9.5,-32.0),(11.8,-31.3),(25.2,-30.1),(8.2,-29.9),(12.8,-27.4),(10.0,-28.3),(5.6,-28.3),(4.6,-28.1),(3.0,-28.8),(11.3,-26.9),(9.0,-26.6),(12.5,-26.4),(12.7,-26.4),(10.2,-26.0),(24.5,-26.2),(3.1,-26.3),(7.5,-25.5),(8.3,-25.5),(8.9,-25.3),(11.1,-25.5),(6.4,-25.1),(6.8,-25.1),(4.5,-25.0),(12.0,-24.8),(8.3,-24.6),(18.3,-24.6),(27.1,-24.3),(2.3,-24.8),(3.7,-24.8),(5.1,-24.7),(12.8,-24.1),(10.4,-23.7),(7.8,-23.8),(4.7,-23.6),(3.2,-23.7),(2.4,-23.7),(1.1,-23.7),(9.5,-23.2),(5.2,-22.7),(12.7,-22.7),(13.2,-22.3),(8.2,-22.3),(9.0,-22.3),(9.9,-22.3),(25.2,-22.7),(1.6,-22.6),(7.6,-21.7),(10.0,-21.8),(4.2,-21.6),(6.1,-21.6),(6.8,-21.6),(12.7,-21.6),(18.3,-21.3),(5.1,-21.1),(1.2,-21.9),(0.9,-20.9),(13.3,-21.1),(14.7,-20.8),(14.0,-20.8),(12.0,-20.8),(11.4,-20.6),(16.6,-20.7),(6.95,-20.8),(7.5,-20.8),(9.4,-20.6),(8.9,-20.5),(3.5,-20.7),(5.2,-20.6),(8.0,-20.1),(7.3,-20.3),(4.0,-20.3),(16.8,-20.3),(15.9,-20.1),(10.9,-19.9),(10.1,-20.0),(6.1,-20.1),(7.0,-19.7),(4.7,-20.1),(2.9,-20.1),(8.7,-19.6),(12.8,-19.6),(4.0,-19.4),(4.7,-19.6),(22.5,-19.2),(13.9,-19.0),(10.1,-19.0),(7.8,-18.8),(16.1,-18.8),(6.4,-18.7),(5.2,-18.7),(5.9,-18.8),(22.3,-18.5),(19.0,-18.5),(12.3,-18.5),(11.4,-18.3),(9.9,-18.5),(10.4,-18.5),(14.7,-18.7),(13.5,-18.1),(16.0,-18.3),(6.8,-18.3),(8.9,-18.0),(14.4,-17.8),(7.8,-17.6),(10.4,-17.6),(20.1,-17.2),(12.3,-17.2),(9.5,-17.4),(14.3,-17.1),(15.6,-17.4),(20.4,-16.7),(23.2,-16.6),(13.7,-16.7),(14.4,-16.6),(16.3,-16.7),(16.6,-16.4),(10.9,-16.7),(10.3,-16.9),(15.6,-16.3),(13.5,-16.0)]
DOTS = (DOTS_EDGE + DOTS_FRINGE_E + DOTS_FRINGE_NE + DOTS_FRINGE_N + DOTS_FRINGE_NW + DOTS_FRINGE_W + DOTS_FRINGE_SW
        + DOTS_FRINGE_S + DOTS_FRINGE_SE + DOTS_RIM + DOTS_TOP_LEFT + DOTS_TOP_RIGHT + DOTS_LEFT + DOTS_RIGHT
        + DOTS_BOTTOM_LEFT + DOTS_BOTTOM_RIGHT)

def unpack(pairs):
    return [a * MILLI for a, _ in pairs], [b * MILLI for _, b in pairs]

def rounded(pairs):
    out = []
    n = len(pairs)
    for i in range(n):
        (a, b), (c, d) = pairs[i], pairs[(i + 1) % n]
        out.append((0.75 * a + 0.25 * c, 0.75 * b + 0.25 * d))
        out.append((0.25 * a + 0.75 * c, 0.25 * b + 0.75 * d))
    return out

XL = (-0.03724, 0.03966)
YL = (-0.03851, 0.03947)

p = figure(width=1216, height=1042, output_backend="svg", toolbar_location=None,
           x_range=Range1d(*XL), y_range=Range1d(*YL), title="Y' vs X'",
           x_axis_label="X'", y_axis_label="\u00a0" * 12 + "Y'",
           min_border_left=129, min_border_right=195, min_border_top=58, min_border_bottom=95)
p.grid.visible = False
p.outline_line_color = INK
p.outline_line_width = 2
p.title.align = "center"
p.title.vertical_align = "top"
p.title.text_font = FONT
p.title.text_font_style = "normal"
p.title.text_font_size = TEXT_SIZE
p.title.text_color = "#000000"
p.title.text_line_height = 0.8
p.title.standoff = 0

shapes = [unpack(rounded(c)) for c in SMOOTH_CONTOURS] + [unpack(c) for c in SHARP_CONTOURS]
p.patches(xs=[s[0] for s in shapes], ys=[s[1] for s in shapes], fill_color=CONTOUR_COLORS, line_color=None)
gx, gy = unpack(RIM_GAPS)
p.scatter(gx, gy, marker="square", size=3, fill_color="#ffffff", line_color=None)
dx, dy = unpack(DOTS)
p.scatter(dx, dy, marker="square", size=4.5, fill_color="#000000", line_color=None)

for ax in (p.xaxis[0], p.yaxis[0]):
    ax.ticker = FixedTicker(ticks=MAJOR_TICKS, minor_ticks=MINOR_TICKS)
    ax.major_tick_in = 17
    ax.major_tick_out = 0
    ax.minor_tick_in = 7
    ax.minor_tick_out = 0
    ax.major_tick_line_color = INK
    ax.minor_tick_line_color = INK
    ax.major_tick_line_width = 2
    ax.minor_tick_line_width = 2
    ax.axis_line_color = INK
    ax.axis_line_width = 2
    ax.major_label_overrides = TICK_LABELS
    ax.major_label_text_font = FONT
    ax.major_label_text_font_size = TEXT_SIZE
    ax.major_label_text_color = "#000000"
    ax.axis_label_text_font = FONT
    ax.axis_label_text_font_size = TEXT_SIZE
    ax.axis_label_text_font_style = "normal"
    ax.axis_label_text_color = "#000000"
    ax.axis_label_text_line_height = 0.5
p.xaxis[0].major_label_standoff = 17
p.yaxis[0].major_label_standoff = 10
p.xaxis[0].axis_label_standoff = -4
p.yaxis[0].axis_label_standoff = -31

# tick marks the two labelled axes do not provide
dxp = 1 / 11600
dyp = 1 / 11400
x0, x1, y0, y1 = [], [], [], []
def add_bottom_left(t, n):
    x0.extend([t, XL[0]]); x1.extend([t, XL[0] + n * dxp])
    y0.extend([YL[0], t]); y1.extend([YL[0] + n * dyp, t])
def add_top_right(t, n):
    x0.extend([t, XL[1]]); x1.extend([t, XL[1] - n * dxp])
    y0.extend([YL[1], t]); y1.extend([YL[1] - n * dyp, t])
for t in MID_TICKS:
    add_bottom_left(t, 11)
    add_top_right(t, 11)
for t in MAJOR_TICKS:
    add_top_right(t, 17)
for t in MINOR_TICKS:
    add_top_right(t, 7)
p.segment(x0, y0, x1, y1, line_color=INK, line_width=2)

mapper = LinearColorMapper(palette=BAND_COLORS, low=LEVELS[0], high=LEVELS[-1])
cb = ColorBar(color_mapper=mapper, location=(10, 9), width=39, height=870, margin=0, padding=0,
              ticker=FixedTicker(ticks=CBAR_TICKS), formatter=NumeralTickFormatter(format="0"),
              bar_line_color=INK, bar_line_width=2, major_tick_line_color=INK, major_tick_line_width=2,
              major_tick_in=0, major_tick_out=11, minor_tick_line_color=None,
              major_label_text_font=FONT, major_label_text_font_size=TEXT_SIZE,
              major_label_text_color="#000000", label_standoff=12, background_fill_color=None)
p.add_layout(cb, "right")

open("out.html", "w").write(file_html(p, INLINE))
